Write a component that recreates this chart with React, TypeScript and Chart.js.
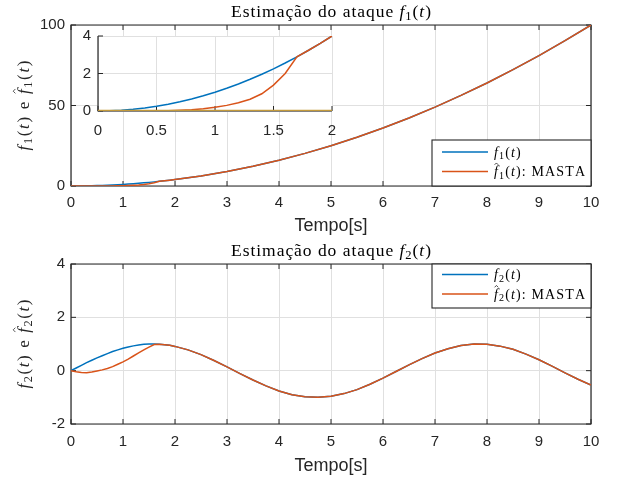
import React, { useEffect, useRef } from 'react';
import { Chart, registerables } from 'chart.js';

Chart.register(...registerables);

// ---------- data ----------
const t1 = [0, 0.1, 0.2, 0.3, 0.4, 0.5, 0.6, 0.7, 0.8, 0.9, 1, 1.1, 1.2, 1.3, 1.4, 1.5, 1.6, 1.7, 1.8, 1.9, 2,
  2.5, 3, 3.5, 4, 4.5, 5, 5.5, 6, 6.5, 7, 7.5, 8, 8.5, 9, 9.5, 10];
const f1 = [0, 0.01, 0.04, 0.09, 0.16, 0.25, 0.36, 0.49, 0.64, 0.81, 1, 1.21, 1.44, 1.69, 1.96, 2.25, 2.56, 2.89, 3.24, 3.61, 4,
  6.25, 9, 12.25, 16, 20.25, 25, 30.25, 36, 42.25, 49, 56.25, 64, 72.25, 81, 90.25, 100];
const f1Hat = [0, 0, 0, 0, 0, 0.01, 0.02, 0.04, 0.07, 0.12, 0.2, 0.3, 0.44, 0.63, 0.92, 1.38, 2.0, 2.89, 3.24, 3.61, 4,
  6.25, 9, 12.25, 16, 20.25, 25, 30.25, 36, 42.25, 49, 56.25, 64, 72.25, 81, 90.25, 100];

const t2 = [0, 0.1, 0.2, 0.3, 0.4, 0.5, 0.6, 0.7, 0.8, 0.9, 1, 1.1, 1.2, 1.3, 1.4, 1.5, 1.6, 1.7, 1.8, 1.9, 2,
  2.25, 2.5, 2.75, 3, 3.25, 3.5, 3.75, 4, 4.25, 4.5, 4.75, 5, 5.25, 5.5, 5.75, 6, 6.25, 6.5, 6.75, 7,
  7.25, 7.5, 7.75, 8, 8.25, 8.5, 8.75, 9, 9.25, 9.5, 9.75, 10];
const f2 = [0, 0.1, 0.2, 0.3, 0.39, 0.48, 0.56, 0.64, 0.72, 0.78, 0.84, 0.89, 0.93, 0.96, 0.99, 1.0, 1.0, 0.99, 0.97, 0.95, 0.91,
  0.78, 0.6, 0.38, 0.14, -0.11, -0.35, -0.57, -0.76, -0.9, -0.98, -1.0, -0.96, -0.86, -0.71, -0.51, -0.28, -0.03, 0.22, 0.45, 0.66,
  0.82, 0.94, 1.0, 0.99, 0.92, 0.8, 0.62, 0.41, 0.17, -0.08, -0.32, -0.54];
const f2Hat = [0, -0.04, -0.07, -0.075, -0.05, -0.01, 0.03, 0.08, 0.15, 0.24, 0.33, 0.43, 0.55, 0.67, 0.78, 0.88, 0.98, 0.99, 0.97, 0.95, 0.91,
  0.78, 0.6, 0.38, 0.14, -0.11, -0.35, -0.57, -0.76, -0.9, -0.98, -1.0, -0.96, -0.86, -0.71, -0.51, -0.28, -0.03, 0.22, 0.45, 0.66,
  0.82, 0.94, 1.0, 0.99, 0.92, 0.8, 0.62, 0.41, 0.17, -0.08, -0.32, -0.54];

const tZero = [0, 2];
const zeroLine = [0, 0];

const xTicksMain = [0, 1, 2, 3, 4, 5, 6, 7, 8, 9, 10];
const yTicksTop = [0, 50, 100];
const yTicksBottom = [-2, 0, 2, 4];
const xTicksInset = [0, 0.5, 1, 1.5, 2];
const yTicksInset = [0, 2, 4];

const titleText = 'Estimação do ataque ';
const xLabelText = 'Tempo[s]';
const legendSuffix = ': MASTA';

// ---------- styles ----------
const W = 617, H = 481;
const BLUE = '#0072BD', ORANGE = '#D95319', OLIVE = '#C39A3B';
const AX = '#262626', GRID = '#e0e0e0';
const SANS = '"Liberation Sans", Arial, Helvetica, sans-serif';
const SERIF = '"Liberation Serif", "Times New Roman", serif';

type Run = { t: string; it?: boolean; sub?: boolean; hat?: boolean };

const fRuns = (idx: string, hat = false): Run[] => [
  { t: 'f', it: true, hat }, { t: idx, sub: true }, { t: '(' }, { t: 't', it: true }, { t: ')' },
];

function fontFor(r: Run, size: number) {
  return `${r.it ? 'italic ' : ''}${(r.sub ? size * 0.72 : size).toFixed(2)}px ${SERIF}`;
}
function naturalWidth(ctx: CanvasRenderingContext2D, runs: Run[], size: number) {
  let w = 0;
  for (const r of runs) { ctx.font = fontFor(r, size); for (const ch of r.t) w += ctx.measureText(ch).width; }
  return w;
}
function charCount(runs: Run[]) { return runs.reduce((n, r) => n + [...r.t].length, 0); }
function spacingFor(ctx: CanvasRenderingContext2D, runs: Run[], size: number, target: number) {
  const n = charCount(runs);
  return Math.max(0, (target - naturalWidth(ctx, runs, size)) / Math.max(1, n - 1));
}
function drawRuns(ctx: CanvasRenderingContext2D, runs: Run[], x: number, y: number, size: number, target: number,
  align: 'center' | 'left', color: string) {
  const sp = spacingFor(ctx, runs, size, target);
  const w = naturalWidth(ctx, runs, size) + sp * (charCount(runs) - 1);
  let cx = align === 'center' ? x - w / 2 : x;
  ctx.textBaseline = 'alphabetic';
  ctx.textAlign = 'left';
  ctx.fillStyle = color;
  ctx.strokeStyle = color;
  for (const r of runs) {
    ctx.font = fontFor(r, size);
    for (const ch of r.t) {
      const rw = ctx.measureText(ch).width;
      ctx.fillText(ch, cx, y + (r.sub ? size * 0.2 : 0));
      if (r.hat) {
        const hx = cx + rw * 0.62, s = size;
        ctx.beginPath();
        ctx.moveTo(hx - s * 0.13, y - s * 0.8);
        ctx.lineTo(hx, y - s * 0.93);
        ctx.lineTo(hx + s * 0.13, y - s * 0.8);
        ctx.lineWidth = Math.max(0.7, s * 0.045);
        ctx.stroke();
      }
      cx += rw + sp;
    }
  }
}

const pts = (xs: number[], ys: number[], maxX = Infinity) =>
  xs.map((x, i) => ({ x, y: ys[i] })).filter((p) => p.x <= maxX);

function makeScale(min: number, max: number, ticks: number[], pad: number, fit: (s: any) => void) {
  return {
    type: 'linear' as const,
    min, max,
    afterBuildTicks: (s: any) => { s.ticks = ticks.map((v) => ({ value: v })); },
    afterFit: fit,
    grid: { color: GRID, lineWidth: 1, drawTicks: false },
    border: { display: false },
    ticks: {
      color: AX, font: { family: SANS, size: 15 }, padding: pad, autoSkip: false, maxRotation: 0,
      callback: (v: any) => String(v),
    },
  };
}

type Legend = { x0: number; y0: number; x1: number; y1: number; rows: { color: string; runs: Run[]; y: number }[] };

function decorPlugin(o: {
  full: boolean; xTicks: number[]; yTicks: number[]; white?: boolean;
  title?: { runs: Run[]; y: number; w: number };
  yLabel?: { runs: Run[]; x: number; w: number };
  xLabelY?: number;
  legend?: Legend;
}) {
  return {
    id: 'decor',
    beforeDraw(chart: any) {
      if (!o.white) return;
      const { ctx, chartArea: a } = chart;
      ctx.save();
      ctx.fillStyle = '#ffffff';
      ctx.fillRect(a.left, a.top, a.right - a.left, a.bottom - a.top);
      ctx.restore();
    },
    beforeDatasetsDraw(chart: any) {
      const { ctx, chartArea: a, scales } = chart;
      ctx.save();
      ctx.strokeStyle = AX;
      ctx.lineWidth = 1.2;
      ctx.beginPath();
      if (o.full) {
        ctx.rect(a.left, a.top, a.right - a.left, a.bottom - a.top);
      } else {
        ctx.moveTo(a.left, a.top); ctx.lineTo(a.left, a.bottom); ctx.lineTo(a.right, a.bottom);
      }
      ctx.stroke();
      const tl = 5;
      ctx.lineWidth = 1;
      ctx.beginPath();
      for (const v of o.xTicks) {
        const px = scales.x.getPixelForValue(v);
        ctx.moveTo(px, a.bottom); ctx.lineTo(px, a.bottom - tl);
        if (o.full) { ctx.moveTo(px, a.top); ctx.lineTo(px, a.top + tl); }
      }
      for (const v of o.yTicks) {
        const py = scales.y.getPixelForValue(v);
        ctx.moveTo(a.left, py); ctx.lineTo(a.left + tl, py);
        if (o.full) { ctx.moveTo(a.right, py); ctx.lineTo(a.right - tl, py); }
      }
      ctx.stroke();
      ctx.restore();
    },
    afterDraw(chart: any) {
      const { ctx, chartArea: a } = chart;
      const cx = (a.left + a.right) / 2;
      const cy = (a.top + a.bottom) / 2;
      ctx.save();
      if (o.title) {
        drawRuns(ctx, o.title.runs, cx, o.title.y, 17.5, o.title.w, 'center', '#000');
      }
      if (o.yLabel) {
        ctx.save();
        ctx.translate(o.yLabel.x, cy);
        ctx.rotate(-Math.PI / 2);
        drawRuns(ctx, o.yLabel.runs, 0, 0, 17, o.yLabel.w, 'center', AX);
        ctx.restore();
      }
      if (o.xLabelY !== undefined) {
        ctx.font = `18px ${SANS}`;
        ctx.fillStyle = AX;
        ctx.textAlign = 'center';
        ctx.textBaseline = 'alphabetic';
        ctx.fillText(xLabelText, cx, o.xLabelY);
      }
      if (o.legend) {
        const L = o.legend;
        ctx.fillStyle = '#fff';
        ctx.fillRect(L.x0, L.y0, L.x1 - L.x0, L.y1 - L.y0);
        ctx.strokeStyle = AX;
        ctx.lineWidth = 1.1;
        ctx.strokeRect(L.x0, L.y0, L.x1 - L.x0, L.y1 - L.y0);
        const sp2 = spacingFor(ctx, L.rows[1].runs, 14, 91);
        for (const r of L.rows) {
          ctx.beginPath();
          ctx.strokeStyle = r.color;
          ctx.lineWidth = 1.5;
          ctx.moveTo(L.x0 + 10, r.y); ctx.lineTo(L.x0 + 56, r.y);
          ctx.stroke();
          const tw = naturalWidth(ctx, r.runs, 14) + sp2 * (charCount(r.runs) - 1);
          drawRuns(ctx, r.runs, L.x0 + 62, r.y + 4.5, 14, tw, 'left', '#000');
        }
      }
      ctx.restore();
    },
  };
}

const baseOptions = {
  responsive: false,
  animation: false as const,
  devicePixelRatio: 1,
  events: [] as any[],
  plugins: { legend: { display: false }, tooltip: { enabled: false }, title: { display: false } },
  elements: { point: { radius: 0 }, line: { borderWidth: 1.5, tension: 0 } },
};

function topConfig(): any {
  return {
    type: 'line',
    data: {
      datasets: [
        { data: pts(t1, f1Hat), borderColor: ORANGE, order: 1 },
        { data: pts(t1, f1), borderColor: BLUE, order: 2 },
      ],
    },
    options: {
      ...baseOptions,
      layout: { padding: { top: 25, right: 26, left: 0, bottom: 0 } },
      scales: {
        x: makeScale(0, 10, xTicksMain, 8, (s: any) => { s.height = H - 186; }),
        y: makeScale(0, 100, yTicksTop, 6, (s: any) => { s.width = 71; }),
      },
    },
    plugins: [decorPlugin({
      full: true, xTicks: xTicksMain, yTicks: yTicksTop,
      title: { runs: [{ t: titleText }, ...fRuns('1')], y: 16.5, w: 200 },
      yLabel: { runs: [...fRuns('1'), { t: ' e ' }, ...fRuns('1', true)], x: 29, w: 90 },
      xLabelY: 231,
      legend: {
        x0: 432, y0: 140, x1: 591, y1: 186,
        rows: [
          { color: BLUE, runs: fRuns('1'), y: 152 },
          { color: ORANGE, runs: [...fRuns('1', true), { t: legendSuffix }], y: 171.5 },
        ],
      },
    })],
  };
}

function insetConfig(): any {
  return {
    type: 'line',
    data: {
      datasets: [
        { data: pts(tZero, zeroLine), borderColor: OLIVE, borderWidth: 2.6, order: 0 },
        { data: pts(t1, f1Hat, 2), borderColor: ORANGE, order: 1 },
        { data: pts(t1, f1, 2), borderColor: BLUE, order: 2 },
      ],
    },
    options: {
      ...baseOptions,
      layout: { padding: { top: 36, right: W - 332, left: 0, bottom: 0 } },
      scales: {
        x: makeScale(0, 2, xTicksInset, 11, (s: any) => { s.height = H - 111; }),
        y: makeScale(0, 4, yTicksInset, 7, (s: any) => { s.width = 98; }),
      },
    },
    plugins: [decorPlugin({ full: false, white: true, xTicks: xTicksInset, yTicks: yTicksInset })],
  };
}

function bottomConfig(): any {
  return {
    type: 'line',
    data: {
      datasets: [
        { data: pts(t2, f2Hat), borderColor: ORANGE, order: 1 },
        { data: pts(t2, f2), borderColor: BLUE, order: 2 },
      ],
    },
    options: {
      ...baseOptions,
      layout: { padding: { top: 264, right: 26, left: 0, bottom: 0 } },
      scales: {
        x: makeScale(0, 10, xTicksMain, 9, (s: any) => { s.height = H - 424; }),
        y: makeScale(-2, 4, yTicksBottom, 6, (s: any) => { s.width = 71; }),
      },
    },
    plugins: [decorPlugin({
      full: true, xTicks: xTicksMain, yTicks: yTicksBottom,
      title: { runs: [{ t: titleText }, ...fRuns('2')], y: 255.5, w: 200 },
      yLabel: { runs: [...fRuns('2'), { t: ' e ' }, ...fRuns('2', true)], x: 29, w: 89 },
      xLabelY: 471,
      legend: {
        x0: 432, y0: 264, x1: 591, y1: 308,
        rows: [
          { color: BLUE, runs: fRuns('2'), y: 274.5 },
          { color: ORANGE, runs: [...fRuns('2', true), { t: legendSuffix }], y: 294 },
        ],
      },
    })],
  };
}

export default function App() {
  const topRef = useRef<HTMLCanvasElement>(null);
  const botRef = useRef<HTMLCanvasElement>(null);
  const insetRef = useRef<HTMLCanvasElement>(null);

  useEffect(() => {
    const charts = [
      new Chart(topRef.current!, topConfig()),
      new Chart(botRef.current!, bottomConfig()),
      new Chart(insetRef.current!, insetConfig()),
    ];
    return () => charts.forEach((c) => c.destroy());
  }, []);

  const cs: React.CSSProperties = { position: 'absolute', left: 0, top: 0 };
  return (
    <div style={{ position: 'fixed', left: 0, top: 0, width: W, height: H, background: '#fff' }}>
      <canvas ref={topRef} width={W} height={H} style={cs} />
      <canvas ref={botRef} width={W} height={H} style={cs} />
      <canvas ref={insetRef} width={W} height={H} style={cs} />
    </div>
  );
}
